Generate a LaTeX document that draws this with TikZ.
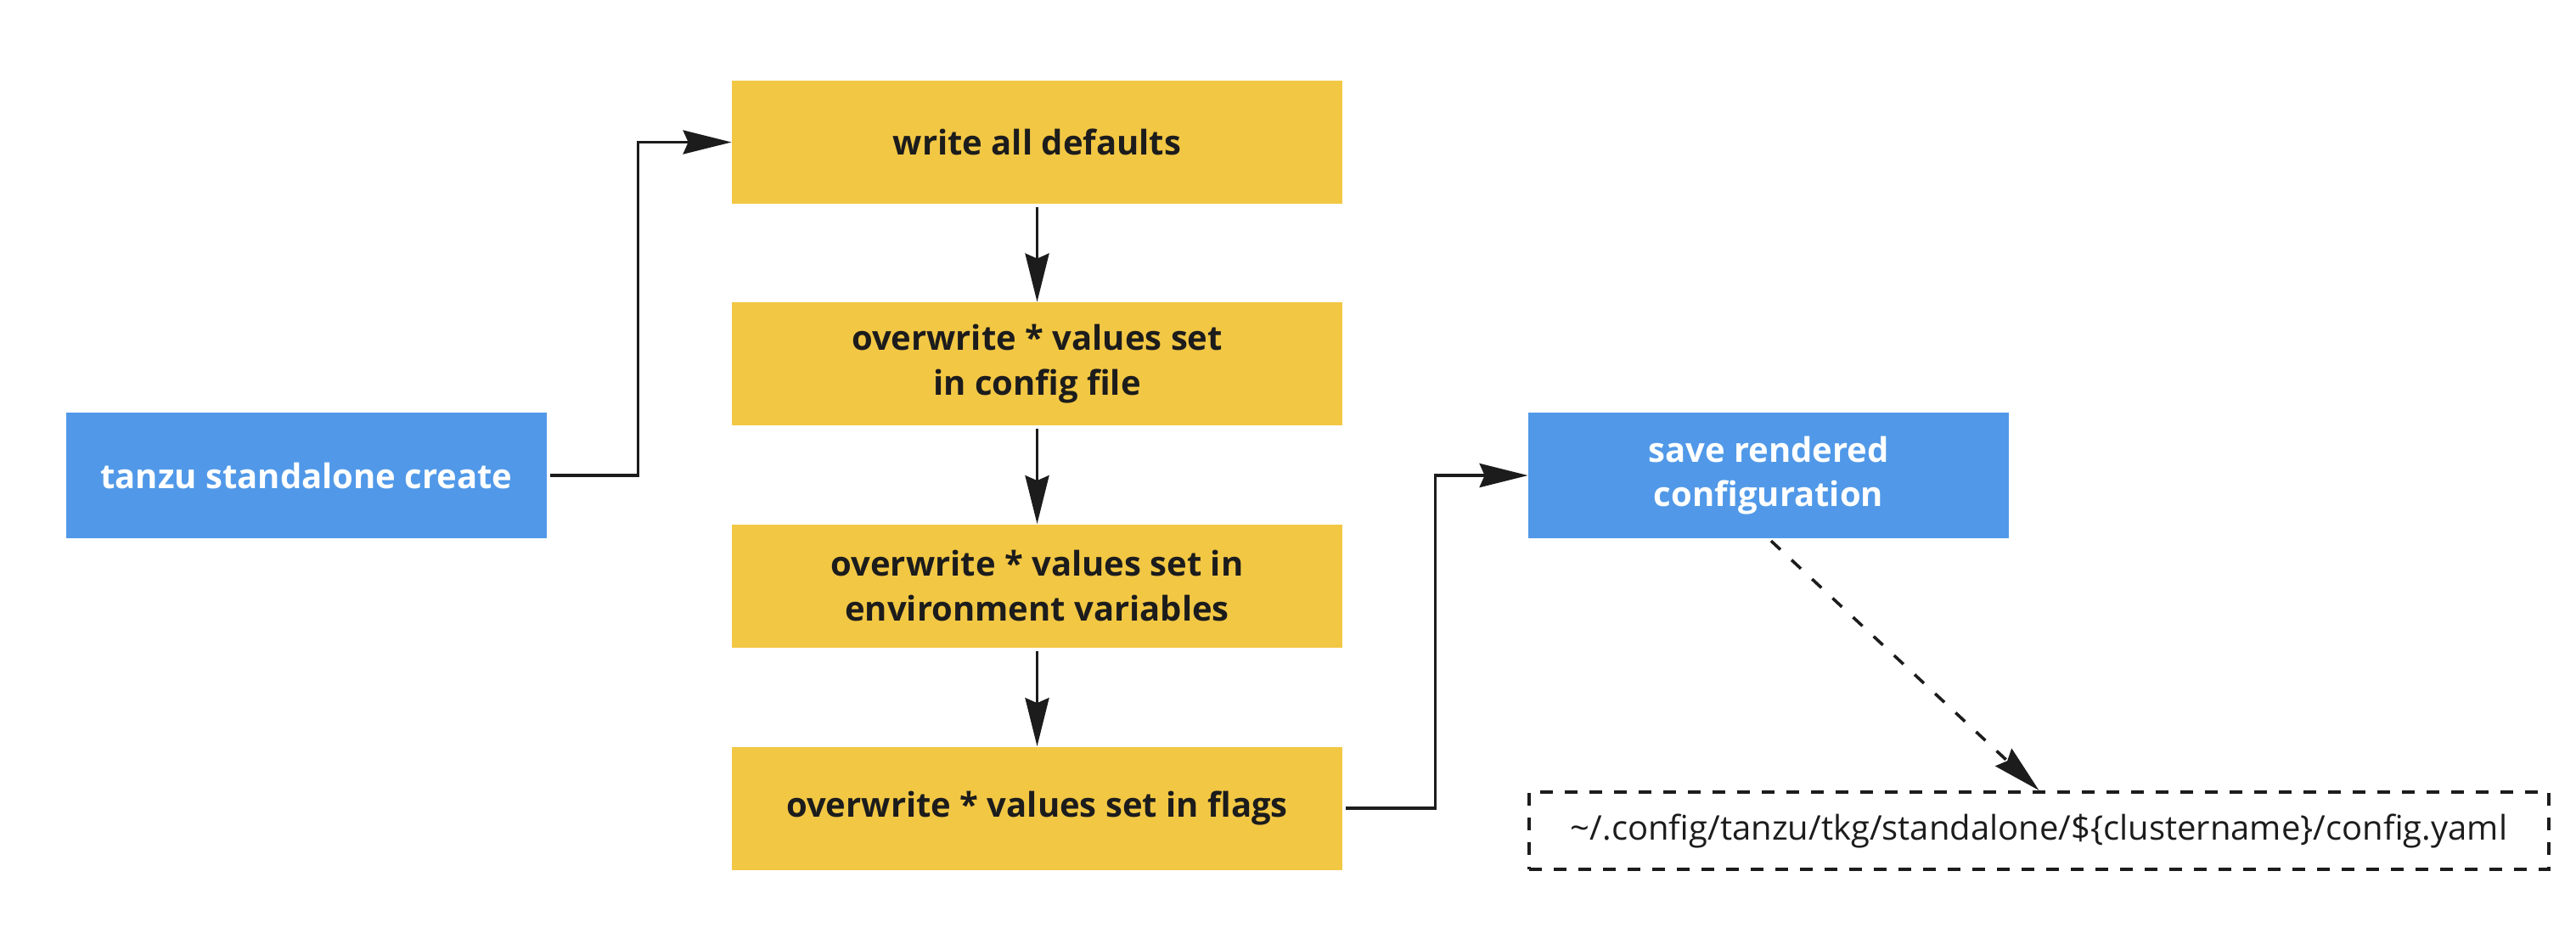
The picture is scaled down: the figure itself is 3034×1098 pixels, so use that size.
\documentclass[tikz,border=0pt]{standalone}
\usepackage{fontspec}
\setmainfont{Open Sans}
\usetikzlibrary{arrows.meta,positioning}
\definecolor{ybox}{HTML}{F2C744}
\definecolor{bbox}{HTML}{5199E8}
\definecolor{ink}{HTML}{1C1C1C}
\tikzset{
  base/.style={rectangle, inner sep=0pt, align=center, font=\bfseries\fontsize{20pt}{26.25pt}\selectfont},
  yellowbox/.style={base, fill=ybox, text=ink, minimum width=359.5pt, minimum height=72.5pt},
  bluebox/.style={base, fill=bbox, text=white, minimum width=283pt, minimum height=74pt},
  filebox/.style={rectangle, draw=ink, line width=2pt, dash pattern=on 7.5pt off 7pt, text=ink, inner sep=0pt, minimum width=600.5pt, minimum height=45.5pt, font=\fontsize{20pt}{26pt}\selectfont},
  conn/.style={draw=ink, line width=1.8pt, -{Stealth[length=28.5pt, width=14pt, inset=3pt]}, shorten <=2pt},
  dconn/.style={conn, dash pattern=on 7.5pt off 9pt}
}
\begin{document}
\begin{tikzpicture}[x=0.5pt, y=-0.5pt]
\useasboundingbox (0,0) rectangle (3034,1098);
\node[bluebox] (tanzu) at (361,560) {tanzu standalone create};
\node[yellowbox] (w1) at (1221.5,167.5) {write all defaults};
\node[yellowbox] (w2) at (1221.5,428.5) {overwrite * values set\\in config file};
\node[yellowbox] (w3) at (1221.5,690) {overwrite * values set in\\environment variables};
\node[yellowbox] (w4) at (1221.5,952) {overwrite * values set in flags};
\node[bluebox] (save) at (2083,560) {save rendered\\configuration};
\node[filebox] (file) at (2401.5,978.5) {\textasciitilde/.config/tanzu/tkg/standalone/\$\{clustername\}/config.yaml};
\draw[conn] (tanzu.east) -- ++(107,0) |- (w1.west);
\draw[conn] (w1) -- (w2);
\draw[conn] (w2) -- (w3);
\draw[conn] (w3) -- (w4);
\draw[conn] (w4.east) -- ++(109,0) |- (save.west);
\draw[dconn] (save.south) -- (file.north);
\end{tikzpicture}
\end{document}
